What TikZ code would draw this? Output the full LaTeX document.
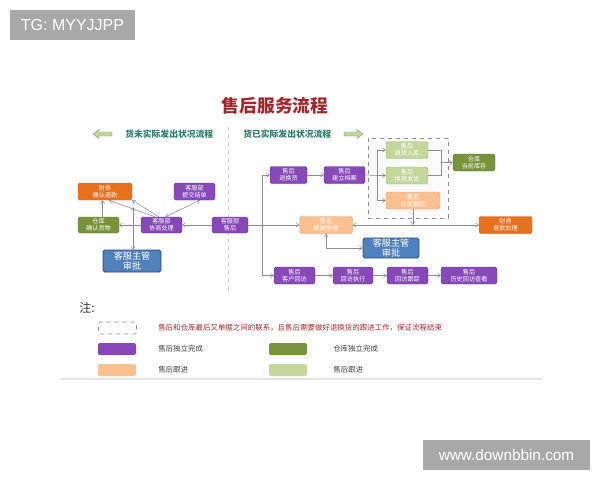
\documentclass[tikz,border=0pt]{standalone}
\usepackage{fontspec}
\setmainfont{Liberation Sans}
\newfontfamily\cjk{Noto Sans CJK SC}
\usetikzlibrary{arrows.meta}
\definecolor{pu}{HTML}{8748B8}
\definecolor{orn}{HTML}{E8711E}
\definecolor{grn}{HTML}{77933C}
\definecolor{lgrn}{HTML}{C3D69B}
\definecolor{pch}{HTML}{FAC090}
\definecolor{blu}{HTML}{4F81BD}
\definecolor{agray}{HTML}{8C8C8C}
\definecolor{dred}{HTML}{A3282E}
\definecolor{teal2}{HTML}{2E7D6B}
\definecolor{wmgray}{HTML}{A8A8A8}
\newcommand{\myfs}[1]{\fontsize{#1}{#1*1.15}\selectfont}
\tikzset{
  sz/.style 2 args={minimum width=#1*0.75pt, minimum height=#2*0.75pt},
  box/.style={rounded corners=1.3pt, inner sep=0pt, align=center, text=white,
    line width=0.3pt, font=\cjk\fontsize{4.6}{5.4}\selectfont},
  pbox/.style={box, fill=pu, draw=pu!80!black},
  obox/.style={box, fill=orn, draw=orn!85!black},
  gbox/.style={box, fill=grn, draw=grn!85!black},
  lgbox/.style={box, fill=lgrn, draw=lgrn!85!black},
  cbox/.style={box, fill=pch, draw=pch!85!black},
  bbox/.style={box, fill=blu, draw=blu!60!black, line width=0.6pt,
    font=\cjk\fontsize{6.8}{8.2}\selectfont},
  conn/.style={draw=agray, line width=0.4pt},
  arr/.style={-{Straight Barb[length=2.2pt,width=3.2pt]}},
  darr/.style={{Straight Barb[length=2.2pt,width=3.2pt]}-{Straight Barb[length=2.2pt,width=3.2pt]}},
  legbox/.style={rounded corners=1.5pt, inner sep=0pt, minimum width=38*0.75pt, minimum height=12*0.75pt},
  legtxt/.style={anchor=west, inner sep=0pt, font=\cjk\fontsize{5.6}{6.5}\selectfont, text=black!75},
  wm/.style={fill=wmgray, text=white, inner sep=0pt, font=\fontsize{12}{14}\selectfont}
}
\begin{document}
\begin{tikzpicture}[x=0.75pt,y=-0.75pt]
\useasboundingbox (0,0) rectangle (600,480);
\fill[white] (0,0) rectangle (600,480);

% watermarks
\node[wm, sz={125}{30}] (wm1) at (72.5,25) {TG: MYYJJPP};
\node[wm, sz={167}{30}, font=\fontsize{11.5}{13}\selectfont] (wm2) at (506.5,455) {www.downbbin.com};

% title
\node[text=dred, font=\cjk\bfseries\fontsize{13.3}{15}\selectfont, inner sep=0pt] (title) at (275,106) {售后服务流程};

% header
\fill[lgrn, draw=lgrn!70!black, line width=0.3pt] (93,134) -- (99,129.5) -- (99,132) -- (112,132) -- (112,136) -- (99,136) -- (99,138.5) -- cycle;
\fill[lgrn, draw=lgrn!70!black, line width=0.3pt] (363,134) -- (357,129.5) -- (357,132) -- (344,132) -- (344,136) -- (357,136) -- (357,138.5) -- cycle;
\node[text=teal2, font=\cjk\bfseries\fontsize{6.6}{7}\selectfont, inner sep=0pt, anchor=west] (hl) at (125,134) {货未实际发出状况流程};
\node[text=teal2, font=\cjk\bfseries\fontsize{6.6}{7}\selectfont, inner sep=0pt, anchor=west] (hr) at (243,134) {货已实际发出状况流程};
\draw[dashed, black!22, line width=0.4pt] (228,127) -- (228,292);

% dashed group
\node[draw=black!45, dashed, fill=black!2, line width=0.4pt, sz={80}{80}, inner sep=0pt] (grp) at (408,178) {};

% left nodes
\node[obox, sz={54}{17}] (caiwu1) at (105,191.5) {财务\\确认退款};
\node[pbox, sz={41}{17}] (tijiao) at (194.5,191.5) {客服部\\提交结单};
\node[gbox, sz={41}{16}] (cangku1) at (98.5,225) {仓库\\确认货物};
\node[pbox, sz={41}{16}] (xieshang) at (161.5,225) {客服部\\协商处理};
\node[bbox, sz={58}{22}] (shenpi1) at (132,261) {客服主管\\审批};
\node[pbox, sz={36}{16}] (shouhou) at (230,225) {客服部\\售后};

% right nodes
\node[pbox, sz={37}{17}] (tuihuan) at (288.5,175) {售后\\退换货};
\node[pbox, sz={41}{17}] (dangan) at (344.5,175) {售后\\建立档案};
\node[lgbox, sz={42}{17}] (rk) at (407,150) {售后\\退货入库};
\node[lgbox, sz={42}{17}] (fh) at (407,175.5) {售后\\换货发货};
\node[cbox, sz={54}{17}] (ck) at (413,200.5) {售后\\出库跟踪};
\node[gbox, sz={42}{17}] (kucun) at (474,162.5) {仓库\\当前库存};
\node[cbox, sz={53}{17}] (genjin) at (326,225) {售后\\跟进处理};
\node[bbox, sz={56}{20}] (shenpi2) at (391,248) {客服主管\\审批};
\node[obox, sz={53}{17}] (caiwu2) at (505.5,225) {财务\\退款处理};
\node[pbox, sz={41}{17}] (hf1) at (294.5,275.5) {售后\\客户回访};
\node[pbox, sz={40}{17}] (hf2) at (353,275.5) {售后\\回访执行};
\node[pbox, sz={41}{17}] (hf3) at (407.5,275.5) {售后\\回访跟踪};
\node[pbox, sz={56}{17}] (hf4) at (469,275.5) {售后\\历史回访查看};

% left connectors
\draw[conn,arr] (shouhou.west) -- (xieshang.east);
\draw[conn,arr] (xieshang.west) -- (cangku1.east);
\draw[conn,arr] ([xshift=3pt]cangku1.north) -- ([xshift=3pt]cangku1.north |- caiwu1.south);
\draw[conn,arr] ([xshift=-5pt]xieshang.north) -- ([xshift=3pt]caiwu1.south);
\draw[conn,arr] ([xshift=-2pt]xieshang.north) -- (caiwu1.south east);
\draw[conn,darr] ([xshift=3pt]xieshang.north) -- ([xshift=4pt]tijiao.south);
\coordinate (j1) at (133,207);
\draw[conn,darr] (shenpi1.north -| j1) -- (j1);

% right connectors
\coordinate (sp) at (262,225);
\draw[conn] (shouhou.east) -- (sp);
\draw[conn,arr] (sp) -- (genjin.west);
\draw[conn,arr] (sp) |- (tuihuan.west);
\draw[conn,arr] (sp) |- (hf1.west);
\draw[conn,arr] (tuihuan.east) -- (dangan.west);
\coordinate (sp2) at (377,175.5);
\draw[conn] (dangan.east) -- (sp2);
\draw[conn,arr] (sp2) |- (rk.west);
\draw[conn,arr] (sp2) -- (fh.west);
\draw[conn,arr] (sp2) |- (ck.west);
\coordinate (mg) at (441,162.5);
\draw[conn] (rk.east) -| (mg);
\draw[conn] (fh.east) -| (mg);
\draw[conn,arr] (mg) -- (kucun.west);
\coordinate (j2) at (ck.south |- genjin.east);
\draw[conn,arr] (ck.south) -- (j2);
\draw[conn,arr] (j2) -- (genjin.east);
\draw[conn,arr] (j2) -- (caiwu2.west);
\draw[conn,darr] (genjin.south) |- (shenpi2.west);
\draw[conn,arr] (hf1.east) -- (hf2.west);
\draw[conn,arr] (hf2.east) -- (hf3.west);
\draw[conn,arr] (hf3.east) -- (hf4.west);

% legend
\node[anchor=west, inner sep=0pt, font=\cjk\fontsize{9}{10}\selectfont, text=black!80] (zhu) at (79,308) {注:};
\node[legbox, draw=black!45, dashed, line width=0.4pt, fill=black!1] (l1) at (117.5,328) {};
\node[legtxt, text=dred] (t1) at (158,328) {售后和仓库最后又单据之间的联系，且售后需要做好退换货的跟进工作，保证流程结束};
\node[legbox, fill=pu] (l2) at (117,349) {};
\node[legtxt] (t2) at (158,349) {售后独立完成};
\node[legbox, fill=grn] (l3) at (288,349) {};
\node[legtxt] (t3) at (333,349) {仓库独立完成};
\node[legbox, fill=pch] (l4) at (117,370) {};
\node[legtxt] (t4) at (158,370) {售后跟进};
\node[legbox, fill=lgrn] (l5) at (288,370) {};
\node[legtxt] (t5) at (333,370) {售后跟进};
\draw[black!10, line width=1.5pt] (60,378.5) -- (542,378.5);
\end{tikzpicture}
\end{document}
